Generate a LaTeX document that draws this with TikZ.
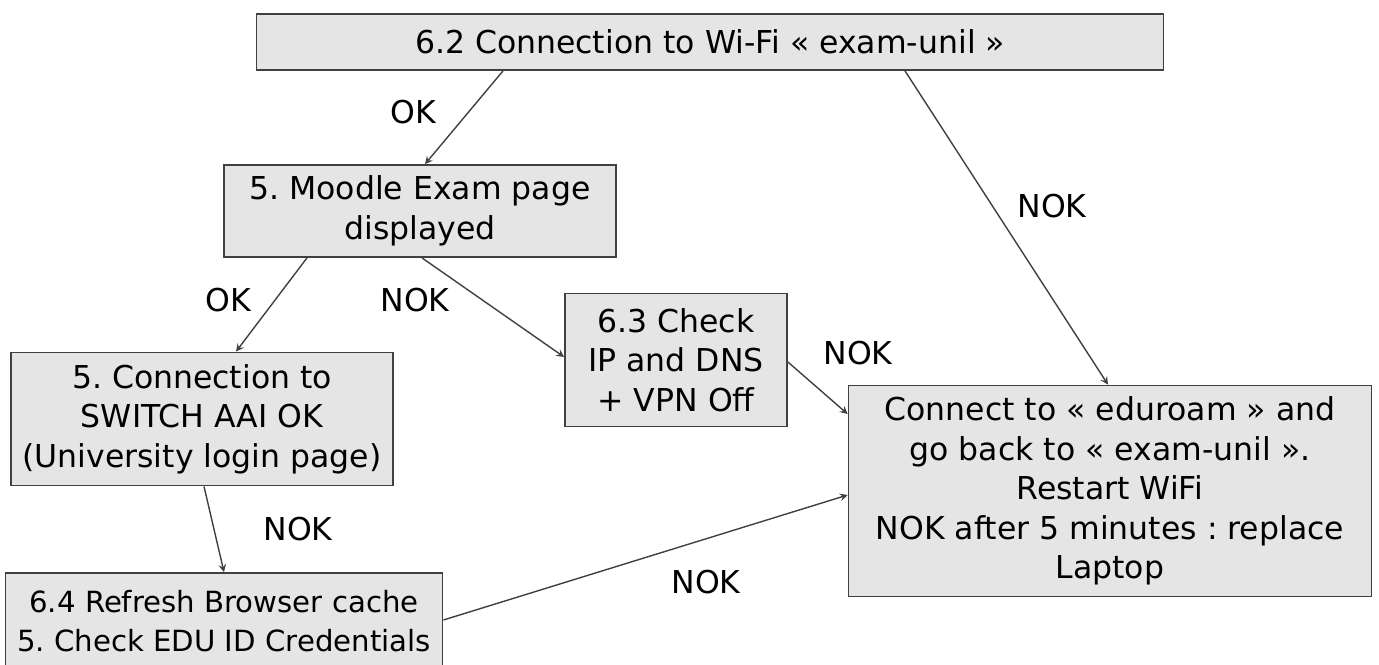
\documentclass[tikz,border=0pt]{standalone}
\usepackage{fontspec}
\setmainfont{DejaVu Sans}
\frenchspacing

\begin{document}
\begin{tikzpicture}[x=0.5pt, y=-0.5pt, >=stealth,
  box/.style={draw=black!75, line width=0.9pt, fill=black!10, align=center, inner sep=0pt,
    font=\fontsize{15.75}{19.75}\selectfont},
  lbl/.style={font=\fontsize{15.75}{19.75}\selectfont},
  link/.style={->, black!75, line width=0.7pt}]
  \useasboundingbox (0,0) rectangle (1379,664);

  % Boxes
  \node[box, minimum width=453.5pt, minimum height=28pt] (wifi) at (710,42) {6.2 Connection to Wi-Fi « exam-unil »};
  \node[box, minimum width=196pt, minimum height=46pt] (moodle) at (420,211) {5. Moodle Exam page\\displayed};
  \node[box, minimum width=111pt, minimum height=66.5pt] (check) at (676,360) {6.3 Check\\IP and DNS\\+ VPN Off};
  \node[box, minimum width=191pt, minimum height=66.5pt] (switch) at (202,419) {5. Connection to\\SWITCH AAI OK\\(University login page)};
  \node[box, minimum width=218.5pt, minimum height=48pt, font=\fontsize{14.6}{19.75}\selectfont] (refresh) at (224,621) {6.4 Refresh Browser cache\\5. Check EDU ID Credentials};
  \node[box, minimum width=261.5pt, minimum height=105.5pt] (eduroam) at (1110,491) {Connect to « eduroam » and\\go back to « exam-unil ».\\Restart WiFi\\NOK after 5 minutes : replace\\Laptop};

  % Connectors
  \draw[link] ([xshift=-103.5pt]wifi.south) -- ([xshift=2.5pt]moodle.north);
  \draw[link] ([xshift=97.5pt]wifi.south) -- ([xshift=-1pt]eduroam.north);
  \draw[link] ([xshift=-56.5pt]moodle.south) -- ([xshift=17pt]switch.north);
  \draw[link] ([xshift=1pt]moodle.south) -- ([yshift=1.5pt]check.west);
  \draw[link] ([yshift=-1pt]check.east) -- ([yshift=38.5pt]eduroam.west);
  \draw[link] ([xshift=1pt]switch.south) -- (refresh.north);
  \draw[link] ([yshift=0.5pt]refresh.east) -- ([yshift=-2pt]eduroam.west);

  % Labels
  \node[lbl] (ok1) at (413,112) {OK};
  \node[lbl] (nok1) at (1052,206) {NOK};
  \node[lbl] (ok2) at (228,300) {OK};
  \node[lbl] (nok2) at (415,300) {NOK};
  \node[lbl] (nok3) at (858,353) {NOK};
  \node[lbl] (nok4) at (298,529) {NOK};
  \node[lbl] (nok5) at (706,582) {NOK};
\end{tikzpicture}
\end{document}
